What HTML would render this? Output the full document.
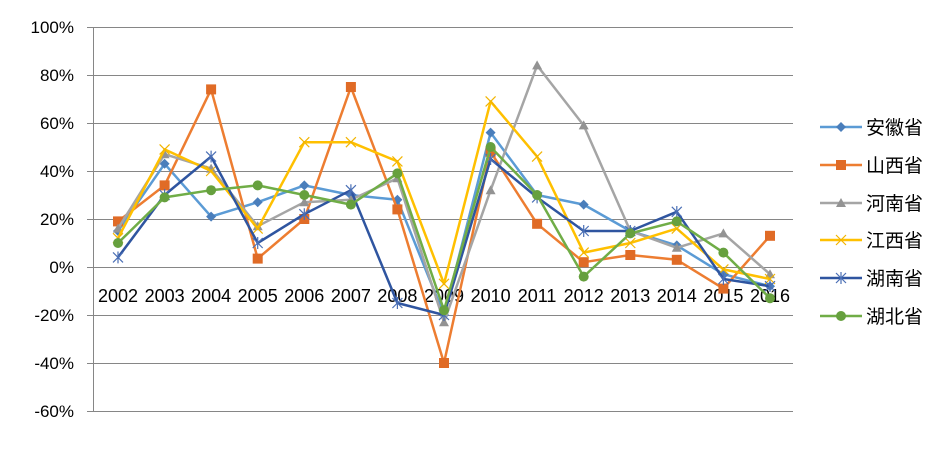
<!DOCTYPE html>
<html><head><meta charset="utf-8"><style>body{margin:0;background:#fff}svg{display:block}</style></head><body>
<svg width="949" height="468" xmlns="http://www.w3.org/2000/svg" font-family="Liberation Sans, 'Noto Sans CJK SC', sans-serif">
<defs>
<marker id="mA" markerWidth="12" markerHeight="12" refX="6" refY="6" markerUnits="userSpaceOnUse"><path d="M6 1 L11 6 L6 11 L1 6Z" fill="#4A7EBB"/></marker>
<marker id="mB" markerWidth="12" markerHeight="12" refX="6" refY="6" markerUnits="userSpaceOnUse"><rect x="1" y="1" width="10" height="10" fill="#E06B26"/></marker>
<marker id="mC" markerWidth="12" markerHeight="12" refX="6" refY="6" markerUnits="userSpaceOnUse"><path d="M6 1 L11 10 L1 10Z" fill="#939393"/></marker>
<marker id="mD" markerWidth="12" markerHeight="12" refX="6" refY="6" markerUnits="userSpaceOnUse"><path d="M1 1 L11 11 M11 1 L1 11" stroke="#F2B400" stroke-width="1.2"/></marker>
<marker id="mE" markerWidth="12" markerHeight="12" refX="6" refY="6" markerUnits="userSpaceOnUse"><path d="M1 1 L11 11 M11 1 L1 11 M6 0 L6 12" stroke="#4A6FB5" stroke-width="1.2"/></marker>
<marker id="mF" markerWidth="12" markerHeight="12" refX="6" refY="6" markerUnits="userSpaceOnUse"><circle cx="6" cy="6" r="5" fill="#66A03E"/></marker>
</defs>
<g stroke="#868686" stroke-width="1">
<line x1="87" y1="27.5" x2="793" y2="27.5"/><line x1="87" y1="75.5" x2="793" y2="75.5"/><line x1="87" y1="123.5" x2="793" y2="123.5"/><line x1="87" y1="171.5" x2="793" y2="171.5"/><line x1="87" y1="219.5" x2="793" y2="219.5"/><line x1="87" y1="267.5" x2="793" y2="267.5"/><line x1="87" y1="315.5" x2="793" y2="315.5"/><line x1="87" y1="363.5" x2="793" y2="363.5"/><line x1="87" y1="411.5" x2="793" y2="411.5"/>
<line x1="93.5" y1="27" x2="93.5" y2="411"/>
</g>
<g font-size="17" fill="#000" text-anchor="end">
<text x="74" y="33">100%</text><text x="74" y="81">80%</text><text x="74" y="129">60%</text><text x="74" y="177">40%</text><text x="74" y="225">20%</text><text x="74" y="273">0%</text><text x="74" y="321">-20%</text><text x="74" y="369">-40%</text><text x="74" y="417">-60%</text>
</g>
<g font-size="18" fill="#000" text-anchor="middle">
<text x="118" y="302">2002</text><text x="164.6" y="302">2003</text><text x="211.1" y="302">2004</text><text x="257.7" y="302">2005</text><text x="304.3" y="302">2006</text><text x="350.9" y="302">2007</text><text x="397.4" y="302">2008</text><text x="444" y="302">2009</text><text x="490.6" y="302">2010</text><text x="537.1" y="302">2011</text><text x="583.7" y="302">2012</text><text x="630.3" y="302">2013</text><text x="676.8" y="302">2014</text><text x="723.4" y="302">2015</text><text x="770" y="302">2016</text>
</g>
<g fill="none" stroke-width="2.5" stroke-linejoin="round">
<polyline stroke="#5B9BD5" marker-start="url(#mA)" marker-mid="url(#mA)" marker-end="url(#mA)" points="118,231 164.6,163.8 211.1,216.6 257.7,202.2 304.3,185.4 350.9,195 397.4,199.8 444,315 490.6,132.6 537.1,195 583.7,204.6 630.3,231 676.8,245.4 723.4,274.2 770,286.2"/>
<polyline stroke="#ED7D31" marker-start="url(#mB)" marker-mid="url(#mB)" marker-end="url(#mB)" points="118,221.4 164.6,185.4 211.1,89.4 257.7,258.6 304.3,219 350.9,87 397.4,209.4 444,363 490.6,151.8 537.1,223.8 583.7,262.2 630.3,255 676.8,259.8 723.4,288.6 770,235.8"/>
<polyline stroke="#A5A5A5" marker-start="url(#mC)" marker-mid="url(#mC)" marker-end="url(#mC)" points="118,228.6 164.6,154.2 211.1,168.6 257.7,226.2 304.3,202.2 350.9,199.8 397.4,178.2 444,322.2 490.6,190.2 537.1,65.4 583.7,125.4 630.3,231 676.8,247.8 723.4,233.4 770,274.2"/>
<polyline stroke="#FFC000" marker-start="url(#mD)" marker-mid="url(#mD)" marker-end="url(#mD)" points="118,238.2 164.6,149.4 211.1,171 257.7,228.6 304.3,142.2 350.9,142.2 397.4,161.4 444,283.8 490.6,101.4 537.1,156.6 583.7,252.6 630.3,243 676.8,228.6 723.4,269.4 770,279"/>
<polyline stroke="#2F55A0" marker-start="url(#mE)" marker-mid="url(#mE)" marker-end="url(#mE)" points="118,257.4 164.6,195 211.1,156.6 257.7,243 304.3,214.2 350.9,190.2 397.4,303 444,315 490.6,159 537.1,197.4 583.7,231 630.3,231 676.8,211.8 723.4,279 770,286.2"/>
<polyline stroke="#70AD47" marker-start="url(#mF)" marker-mid="url(#mF)" marker-end="url(#mF)" points="118,243 164.6,197.4 211.1,190.2 257.7,185.4 304.3,195 350.9,204.6 397.4,173.4 444,310.2 490.6,147 537.1,195 583.7,276.6 630.3,233.4 676.8,221.4 723.4,252.6 770,298.2"/>
</g>
<g stroke-width="2.5" fill="none">
<path d="M820 127 H862" stroke="#5B9BD5"/><path d="M841 127 h0" stroke="#5B9BD5" marker-start="url(#mA)"/>
<path d="M820 165 H862" stroke="#ED7D31"/><path d="M841 165 h0" stroke="#ED7D31" marker-start="url(#mB)"/>
<path d="M820 203 H862" stroke="#A5A5A5"/><path d="M841 203 h0" stroke="#A5A5A5" marker-start="url(#mC)"/>
<path d="M820 240 H862" stroke="#FFC000"/><path d="M841 240 h0" stroke="#FFC000" marker-start="url(#mD)"/>
<path d="M820 278 H862" stroke="#2F55A0"/><path d="M841 278 h0" stroke="#2F55A0" marker-start="url(#mE)"/>
<path d="M820 316 H862" stroke="#70AD47"/><path d="M841 316 h0" stroke="#70AD47" marker-start="url(#mF)"/>
</g>
<g font-size="19" fill="#000">
<text x="866" y="134">安徽省</text><text x="866" y="172">山西省</text><text x="866" y="210">河南省</text><text x="866" y="247">江西省</text><text x="866" y="285">湖南省</text><text x="866" y="323">湖北省</text>
</g>
</svg>
</body></html>
